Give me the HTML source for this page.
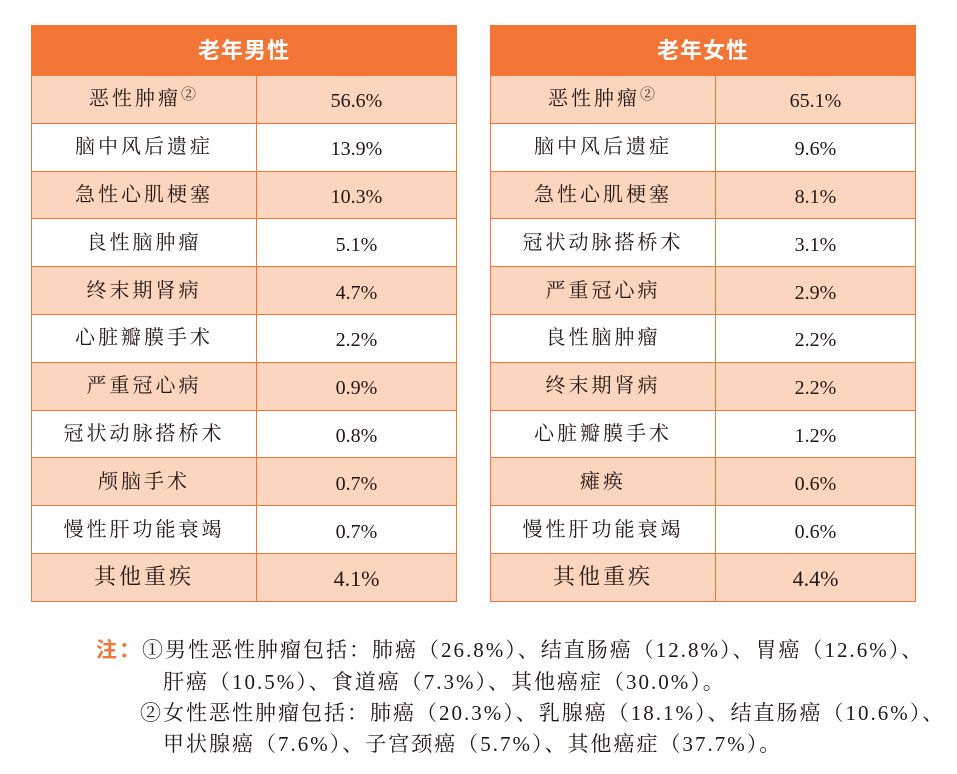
<!DOCTYPE html>
<html><head><meta charset="utf-8"><style>
body{margin:0;background:#fff;width:957px;height:774px;position:relative;overflow:hidden;font-family:"Liberation Serif","Noto Serif CJK SC",serif;color:#231815}
.tbl{position:absolute;top:25px;width:426px;border-collapse:collapse}
.tbl td,.tbl th{border:1px solid #F27535;height:46.8px;padding:0;text-align:center;vertical-align:middle;font-size:20px;font-weight:normal;line-height:22px}
.tbl th{background:#F27535;color:#fff;height:49px;font-family:"Liberation Sans","Noto Sans CJK SC",sans-serif;font-size:22px;font-weight:bold;letter-spacing:1px}
.tbl tr:nth-child(even) td{background:#FBD5BD}
.tbl td:first-child{width:224px;letter-spacing:3px}
.tbl td:last-child{padding-top:4px;height:42.8px}
.tbl tr:last-child td{font-size:22px}
sup{font-size:15px;vertical-align:6px;line-height:0}
.note{position:absolute;font-size:21px;white-space:nowrap;letter-spacing:2px}
</style></head><body>
<table class="tbl" style="left:31px">
<tr><th colspan="2">老年男性</th></tr>
<tr><td>恶性肿瘤<sup>②</sup></td><td>56.6%</td></tr>
<tr><td>脑中风后遗症</td><td>13.9%</td></tr>
<tr><td>急性心肌梗塞</td><td>10.3%</td></tr>
<tr><td>良性脑肿瘤</td><td>5.1%</td></tr>
<tr><td>终末期肾病</td><td>4.7%</td></tr>
<tr><td>心脏瓣膜手术</td><td>2.2%</td></tr>
<tr><td>严重冠心病</td><td>0.9%</td></tr>
<tr><td>冠状动脉搭桥术</td><td>0.8%</td></tr>
<tr><td>颅脑手术</td><td>0.7%</td></tr>
<tr><td>慢性肝功能衰竭</td><td>0.7%</td></tr>
<tr><td>其他重疾</td><td>4.1%</td></tr>
</table>
<table class="tbl" style="left:490px">
<tr><th colspan="2">老年女性</th></tr>
<tr><td>恶性肿瘤<sup>②</sup></td><td>65.1%</td></tr>
<tr><td>脑中风后遗症</td><td>9.6%</td></tr>
<tr><td>急性心肌梗塞</td><td>8.1%</td></tr>
<tr><td>冠状动脉搭桥术</td><td>3.1%</td></tr>
<tr><td>严重冠心病</td><td>2.9%</td></tr>
<tr><td>良性脑肿瘤</td><td>2.2%</td></tr>
<tr><td>终末期肾病</td><td>2.2%</td></tr>
<tr><td>心脏瓣膜手术</td><td>1.2%</td></tr>
<tr><td>瘫痪</td><td>0.6%</td></tr>
<tr><td>慢性肝功能衰竭</td><td>0.6%</td></tr>
<tr><td>其他重疾</td><td>4.4%</td></tr>
</table>
<div class="note" style="left:96px;top:634px"><span style="color:#F27535;font-family:'Liberation Sans','Noto Sans CJK SC',sans-serif;font-weight:bold">注：</span>①男性恶性肿瘤包括：肺癌（26.8%）、结直肠癌（12.8%）、胃癌（12.6%）、</div>
<div class="note" style="left:163px;top:666px">肝癌（10.5%）、食道癌（7.3%）、其他癌症（30.0%）。</div>
<div class="note" style="left:140px;top:697px">②女性恶性肿瘤包括：肺癌（20.3%）、乳腺癌（18.1%）、结直肠癌（10.6%）、</div>
<div class="note" style="left:163px;top:728px">甲状腺癌（7.6%）、子宫颈癌（5.7%）、其他癌症（37.7%）。</div>
</body></html>
